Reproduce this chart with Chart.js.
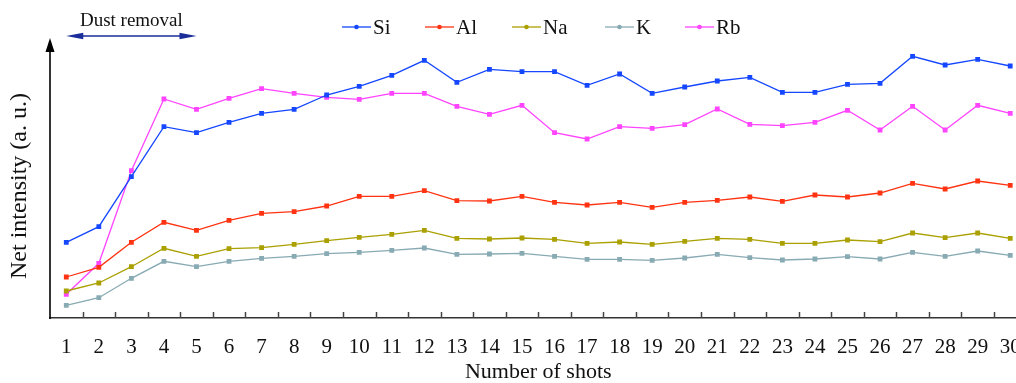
<!DOCTYPE html>
<html>
<head>
<meta charset="utf-8">
<script src="https://cdn.jsdelivr.net/npm/chart.js@4/dist/chart.umd.min.js"></script>
<style>
  html, body { margin: 0; padding: 0; background: #fff; overflow: hidden; }
  #wrap { width: 1040px; height: 383px; }
</style>
</head>
<body>
<div id="wrap"><canvas id="chart" width="1040" height="383"></canvas></div>
<script>
// shot numbers
const shots = ['1','2','3','4','5','6','7','8','9','10','11','12','13','14','15',
  '16','17','18','19','20','21','22','23','24','25','26','27','28','29','30'];

// net intensity (a. u.)
const si = [75.7, 91.3, 141.3, 191.3, 185.3, 195.7, 204.7, 208.7, 223, 231.7,
  242.7, 257.7, 235.7, 248.7, 246.3, 246.3, 232.7, 244, 224.7, 231,
  237, 240.7, 225.7, 225.7, 233.7, 234.7, 261.7, 253, 258.7, 252];
const al = [41, 50.7, 75.7, 95.7, 87.7, 97.7, 104.7, 106.3, 112, 121.7,
  121.7, 127.3, 117.3, 117, 121.7, 115.7, 113, 115.7, 110.7, 115.7,
  117.7, 121, 116.7, 123, 121, 125, 134.7, 129, 137, 132.7];
const na = [27, 35, 51.3, 69.7, 61.7, 69.3, 70.3, 73.7, 77.3, 80.7,
  83.7, 87.7, 79.7, 79, 80, 78.7, 74.7, 76, 73.7, 76.7,
  79.7, 78.7, 74.7, 74.7, 78, 76.3, 85, 80.3, 85, 79.7];
const k = [12.7, 20.3, 39.7, 56.7, 51.3, 56.7, 59.7, 61.7, 64.3, 65.7,
  67.7, 70, 63.7, 64, 64.7, 61.7, 58.7, 58.7, 57.7, 60,
  63.7, 60.3, 58, 59, 61.3, 59, 65.7, 61.7, 67, 62.7];
const rb = [23.7, 54.7, 147.3, 219, 208.7, 219.7, 229.3, 224.7, 220.7, 218.7,
  224.7, 224.7, 211.7, 203.7, 212.7, 185.3, 179, 191.3, 189.7, 193.3,
  209, 193.7, 192.3, 195.7, 207.7, 188, 211.7, 188, 212.7, 204.7];

const names = ['Si', 'Al', 'Na', 'K', 'Rb'];
const colors = ['#1447ff', '#ff3311', '#aaa000', '#88aab3', '#ff44ff'];
const series = [si, al, na, k, rb];

const serif = "'Liberation Serif', 'DejaVu Serif', serif";

function mkSet(i) {
  return {
    label: names[i],
    data: series[i],
    borderColor: colors[i],
    backgroundColor: colors[i],
    pointBackgroundColor: colors[i],
    borderWidth: 1.3,
    pointStyle: 'rect',
    pointRadius: 3.4,
    pointBorderWidth: 0,
    tension: 0
  };
}

// legend, y axis arrow, inward ticks and the dust removal note
const decor = {
  id: 'decor',
  afterDraw(chart) {
    const ctx = chart.ctx;
    const area = chart.chartArea;
    const x = chart.scales.x;
    ctx.save();

    // inward tick marks between categories
    ctx.strokeStyle = '#444';
    ctx.lineWidth = 1.5;
    for (let i = 0; i < shots.length - 1; i++) {
      const px = Math.round((x.getPixelForValue(i) + x.getPixelForValue(i + 1)) / 2) + 0.5;
      ctx.beginPath();
      ctx.moveTo(px, area.bottom);
      ctx.lineTo(px, area.bottom - 6);
      ctx.stroke();
    }

    // y axis with arrow
    ctx.strokeStyle = '#000';
    ctx.fillStyle = '#000';
    ctx.lineWidth = 1.6;
    ctx.beginPath();
    ctx.moveTo(area.left, area.bottom + 1);
    ctx.lineTo(area.left, 48);
    ctx.stroke();
    ctx.beginPath();
    ctx.moveTo(area.left, 38);
    ctx.lineTo(area.left - 4.5, 52);
    ctx.lineTo(area.left + 4.5, 52);
    ctx.closePath();
    ctx.fill();

    // y title
    ctx.save();
    ctx.translate(20, 186);
    ctx.rotate(-Math.PI / 2);
    ctx.font = '24px ' + serif;
    ctx.textAlign = 'center';
    ctx.textBaseline = 'middle';
    ctx.fillStyle = '#111';
    ctx.fillText('Net intensity (a. u.)', 0, 0);
    ctx.restore();

    // dust removal double arrow over shots 1-5
    const a0 = x.getPixelForValue(0), a1 = x.getPixelForValue(4);
    const ay = 36;
    ctx.strokeStyle = '#1a2d99';
    ctx.fillStyle = '#1a2d99';
    ctx.lineWidth = 1.5;
    ctx.beginPath();
    ctx.moveTo(a0 + 8, ay);
    ctx.lineTo(a1 - 8, ay);
    ctx.stroke();
    ctx.beginPath();
    ctx.moveTo(a0, ay);
    ctx.lineTo(a0 + 17, ay - 3.2);
    ctx.lineTo(a0 + 17, ay + 3.2);
    ctx.closePath();
    ctx.fill();
    ctx.beginPath();
    ctx.moveTo(a1, ay);
    ctx.lineTo(a1 - 17, ay - 3.2);
    ctx.lineTo(a1 - 17, ay + 3.2);
    ctx.closePath();
    ctx.fill();
    ctx.font = '19px ' + serif;
    ctx.fillStyle = '#111';
    ctx.textAlign = 'center';
    ctx.textBaseline = 'middle';
    ctx.fillText('Dust removal', (a0 + a1) / 2, 21);

    // legend
    const lx = [342, 425, 512, 605, 685];
    const ly = 27;
    ctx.font = '21px ' + serif;
    ctx.textAlign = 'left';
    ctx.textBaseline = 'middle';
    names.forEach((n, i) => {
      ctx.strokeStyle = colors[i];
      ctx.fillStyle = colors[i];
      ctx.lineWidth = 1.3;
      ctx.beginPath();
      ctx.moveTo(lx[i], ly);
      ctx.lineTo(lx[i] + 29, ly);
      ctx.stroke();
      ctx.beginPath();
      ctx.arc(lx[i] + 14.5, ly, 2.3, 0, Math.PI * 2);
      ctx.fill();
      ctx.fillStyle = '#111';
      ctx.fillText(n, lx[i] + 31, ly + 1);
    });

    ctx.restore();
  }
};

new Chart(document.getElementById('chart'), {
  type: 'line',
  data: {
    labels: shots,
    datasets: series.map((s, i) => mkSet(i))
  },
  options: {
    responsive: false,
    animation: false,
    layout: { padding: { left: 50, right: 13.5, top: 40, bottom: 0 } },
    plugins: { legend: { display: false }, tooltip: { enabled: false } },
    scales: {
      x: {
        offset: true,
        afterFit(scale) { scale.height = 65; },
        grid: { display: true, drawOnChartArea: false, drawTicks: false },
        border: { display: true, color: '#333', width: 1.6 },
        ticks: {
          color: '#111',
          font: { family: serif, size: 21, lineHeight: 1.2 },
          padding: 16.4,
          maxRotation: 0,
          autoSkip: false
        },
        title: {
          display: true,
          text: 'Number of shots',
          color: '#111',
          font: { family: serif, size: 22, lineHeight: 1.0 },
          padding: { top: 0, bottom: 0 }
        }
      },
      y: {
        display: false,
        min: 0,
        max: 278
      }
    }
  },
  plugins: [decor]
});
</script>
</body>
</html>
